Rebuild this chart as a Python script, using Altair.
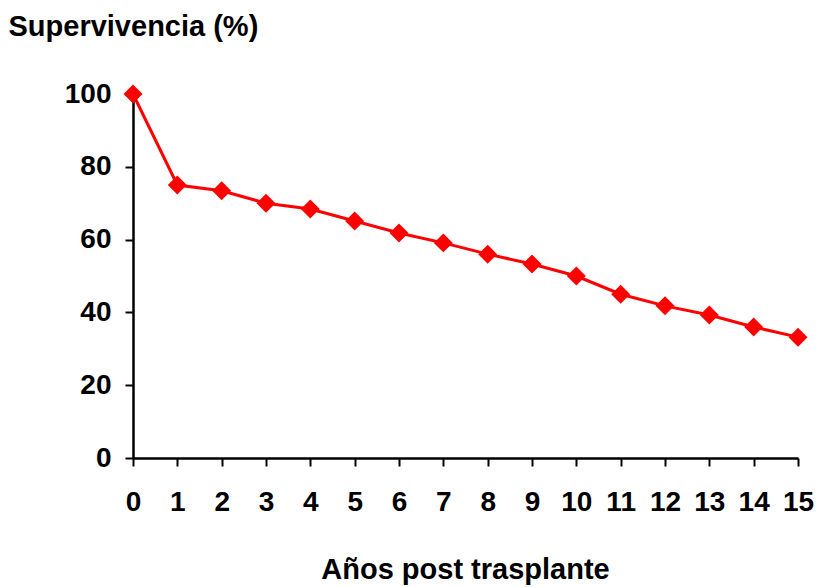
import altair as alt
import pandas as pd

# Survival after transplant, by year
years = list(range(16))
survival = [100, 75.0, 73.4, 70.0, 68.4, 65.1, 61.8, 59.1, 56.0, 53.3,
            50.0, 45.0, 41.8, 39.3, 36.0, 33.2]
x_ticks = list(range(16))
y_ticks = [0, 20, 40, 60, 80, 100]

df = pd.DataFrame({"year": years, "survival": survival})

font = "Liberation Sans, Arial, sans-serif"

x = alt.X(
    "year:Q",
    scale=alt.Scale(domain=[0, 15], nice=False),
    axis=alt.Axis(
        values=x_ticks, format="d", title="Años post trasplante",
        labelFont=font, labelFontSize=28, labelFontWeight="bold",
        labelColor="black", labelPadding=22,
        titleFont=font, titleFontSize=29, titleFontWeight="bold",
        titleColor="black", titleAlign="center", titleBaseline="alphabetic",
        titleX=332, titleY=120,
        domainColor="black", domainWidth=2.5, tickColor="black",
        tickWidth=2, tickSize=8, grid=False, labelFlush=False,
    ),
)
y = alt.Y(
    "survival:Q",
    scale=alt.Scale(domain=[0, 100], nice=False),
    axis=alt.Axis(
        values=y_ticks, title="Supervivencia (%)",
        labelFont=font, labelFontSize=28, labelFontWeight="bold",
        labelColor="black", labelPadding=14,
        titleFont=font, titleFontSize=29, titleFontWeight="bold",
        titleColor="black", titleAngle=0, titleAlign="left",
        titleBaseline="alphabetic", titleX=-125, titleY=-59,
        domainColor="black", domainWidth=2.5, tickColor="black",
        tickWidth=2, tickSize=8, grid=False, labelFlush=False,
    ),
)

base = alt.Chart(df).encode(x=x, y=y)
line = base.mark_line(color="#FF0000", strokeWidth=3)
points = base.mark_point(shape="diamond", filled=True, size=360,
                         color="#FF0000", opacity=1)

chart = (
    (line + points)
    .properties(
        width=665, height=364,
        autosize=alt.AutoSizeParams(type="none"),
        padding={"left": 133, "top": 94, "right": 19, "bottom": 129},
        background="white",
    )
    .configure_view(stroke=None)
)

chart.save("out.html", embed_options={"renderer": "svg", "actions": False})
